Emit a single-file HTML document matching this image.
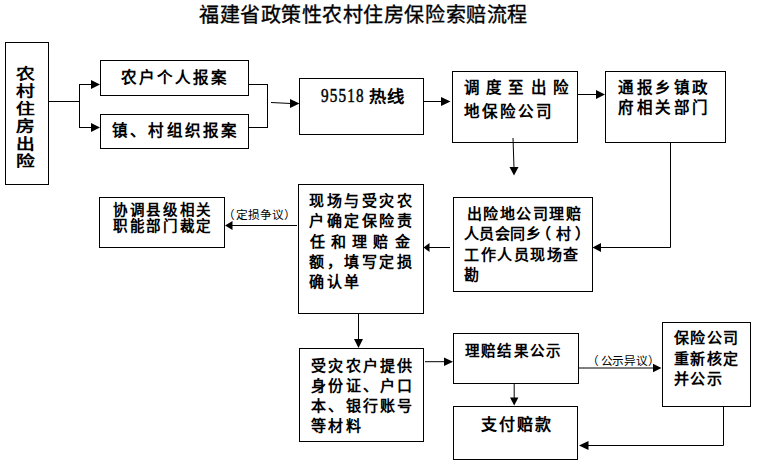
<!DOCTYPE html>
<html lang="zh-CN">
<head>
<meta charset="utf-8">
<title>福建省政策性农村住房保险索赔流程</title>
<style>
html,body{margin:0;padding:0;background:#fff;width:775px;height:469px;overflow:hidden}
svg{position:absolute;left:0;top:0}
.t{position:absolute;white-space:nowrap;font-family:"Liberation Serif",serif;font-weight:bold;color:#000;line-height:1;font-size:15px}
.s{font-family:"Liberation Sans",sans-serif;font-weight:normal;font-size:11.7px}
.t{text-spacing-trim:space-all}
.ti{font-weight:normal;-webkit-text-stroke:0.35px #000}
</style>
</head>
<body>
<svg width="775" height="469" viewBox="0 0 775 469">
<g fill="none" stroke="#000" stroke-width="1">
<rect x="5.5" y="42.5" width="43" height="142"/>
<rect x="100.5" y="60.5" width="148" height="35"/>
<rect x="100.5" y="114.5" width="148" height="34"/>
<rect x="299.5" y="78.5" width="124" height="56"/>
<rect x="452.5" y="71.5" width="125" height="71"/>
<rect x="605.5" y="71.5" width="120" height="71"/>
<rect x="99.5" y="197.5" width="125" height="50"/>
<rect x="298.5" y="184.5" width="125" height="129"/>
<rect x="453.5" y="197.5" width="139" height="94"/>
<rect x="299.5" y="348.5" width="124" height="93"/>
<rect x="453.5" y="333.5" width="125" height="50"/>
<rect x="453.5" y="406.5" width="124" height="53"/>
<rect x="662.5" y="322.5" width="88" height="84"/>
<path d="M49 101.5H80M79.5 84V128M79 84.5H92M79 127.5H92"/>
<path d="M249 84.5H267.5M249 127.5H267.5M267.5 84V128"/>
<path d="M271 102.5L291 103.5"/>
<path d="M424 101.5H442"/>
<path d="M578 94.5H597"/>
<path d="M513 138L514 168"/>
<path d="M670.5 143V247.5H601"/>
<path d="M450 247.5H429"/>
<path d="M297 225.5H232"/>
<path d="M358.5 314V340"/>
<path d="M425 361.7H445"/>
<path d="M514.2 384V398"/>
<path d="M579 368H654"/>
<path d="M723.5 407V445.5H588"/>
</g>
<g fill="#000" stroke="none">
<polygon points="91,80 100,84.5 91,89"/>
<polygon points="91,123 100,127.5 91,132"/>
<polygon points="290,99 299.5,103.5 290,108"/>
<polygon points="441,97 450.5,101.5 441,106"/>
<polygon points="596,90 605,94.5 596,99"/>
<polygon points="509.5,167 514,175.5 518.5,167"/>
<polygon points="601,243 592.5,247.5 601,252"/>
<polygon points="429.5,243 423.5,247.5 429.5,252"/>
<polygon points="232.5,221 225,225.5 232.5,230"/>
<polygon points="354,339 358.5,348 363,339"/>
<polygon points="444,357.5 453,361.7 444,366"/>
<polygon points="510,397.5 514.2,405.5 518.4,397.5"/>
<polygon points="653,363.7 661.5,368 653,372.3"/>
<polygon points="588.5,441 579,445.5 588.5,450"/>
</g>
</svg>

<div class="t ti" style="left:199px;top:4.5px;font-size:20px;letter-spacing:0.55px">福建省政策性农村住房保险索赔流程</div>

<div class="t" style="left:16px;top:65.5px;font-size:15px;line-height:17.6px;white-space:normal;width:17px;transform:scaleX(1.25);transform-origin:0 0">农<br>村<br>住<br>房<br>出<br>险</div>

<div class="t" style="left:121px;top:70px;font-size:15.5px;letter-spacing:2.1px">农户个人报案</div>
<div class="t" style="left:112px;top:122.5px;font-size:15.5px;letter-spacing:2.2px">镇、村组织报案</div>

<div class="t" style="left:320.5px;top:86px;font-size:19px;letter-spacing:1.45px;font-weight:normal;-webkit-text-stroke:0.5px #000;transform:scaleX(0.8);transform-origin:0 0">95518</div>
<div class="t" style="left:369px;top:88.5px;font-size:16px;letter-spacing:0.95px;transform:scaleX(1.08);transform-origin:0 0">热线</div>

<div class="t" style="left:464px;top:80px;font-size:15.5px;letter-spacing:6.2px">调度至出险</div>
<div class="t" style="left:464px;top:104px;font-size:15.5px;letter-spacing:2.1px">地保险公司</div>

<div class="t" style="left:618px;top:79.5px;font-size:15.5px;letter-spacing:2.6px">通报乡镇政</div>
<div class="t" style="left:618px;top:99.5px;font-size:15.5px;letter-spacing:2.6px">府相关部门</div>

<div class="t" style="left:113px;top:203px;font-size:14.5px;letter-spacing:2.7px">协调县级相关</div>
<div class="t" style="left:113px;top:219px;font-size:14.5px;letter-spacing:2.7px">职能部门裁定</div>

<div class="t" style="left:309px;top:194px;letter-spacing:2.5px">现场与受灾农</div>
<div class="t" style="left:309px;top:214px;letter-spacing:2.5px">户确定保险责</div>
<div class="t" style="left:309.5px;top:234.5px;letter-spacing:6.3px">任和理赔金</div>
<div class="t" style="left:309px;top:255px;letter-spacing:2.5px">额，填写定损</div>
<div class="t" style="left:309px;top:275px;letter-spacing:2.5px">确认单</div>

<div class="t" style="left:466.5px;top:206.5px;letter-spacing:1.5px">出险地公司理赔</div>
<div class="t" style="left:464px;top:227px;letter-spacing:0.4px">人员会同乡<span style="position:relative;left:-5px">（</span>村<span style="position:relative;left:3.5px">）</span></div>
<div class="t" style="left:464px;top:248px;letter-spacing:1.5px">工作人员现场查</div>
<div class="t" style="left:464px;top:268px;letter-spacing:1.5px">勘</div>

<div class="t" style="left:311px;top:359px;letter-spacing:2.3px">受灾农户提供</div>
<div class="t" style="left:311px;top:379px;letter-spacing:2.3px">身份证、户口</div>
<div class="t" style="left:311px;top:399px;letter-spacing:2.3px">本、银行账号</div>
<div class="t" style="left:311px;top:419px;letter-spacing:2.3px">等材料</div>

<div class="t" style="left:465px;top:344px;font-size:14.5px;letter-spacing:2.2px">理赔结果公示</div>
<div class="t" style="left:480.5px;top:416.5px;font-size:16px;letter-spacing:2.2px">支付赔款</div>

<div class="t" style="left:674px;top:331px;letter-spacing:1.4px">保险公司</div>
<div class="t" style="left:674px;top:352px;letter-spacing:1.4px">重新核定</div>
<div class="t" style="left:674px;top:372px;letter-spacing:1.4px">并公示</div>

<div class="t s" style="left:224px;top:208.5px;letter-spacing:-0.1px"><span style="position:relative;left:-1.5px">（</span>定损争议）</div>
<div class="t s" style="left:589px;top:354.5px;letter-spacing:-0.3px"><span style="position:relative;left:-2px">（</span>公示异议）</div>
</body>
</html>
